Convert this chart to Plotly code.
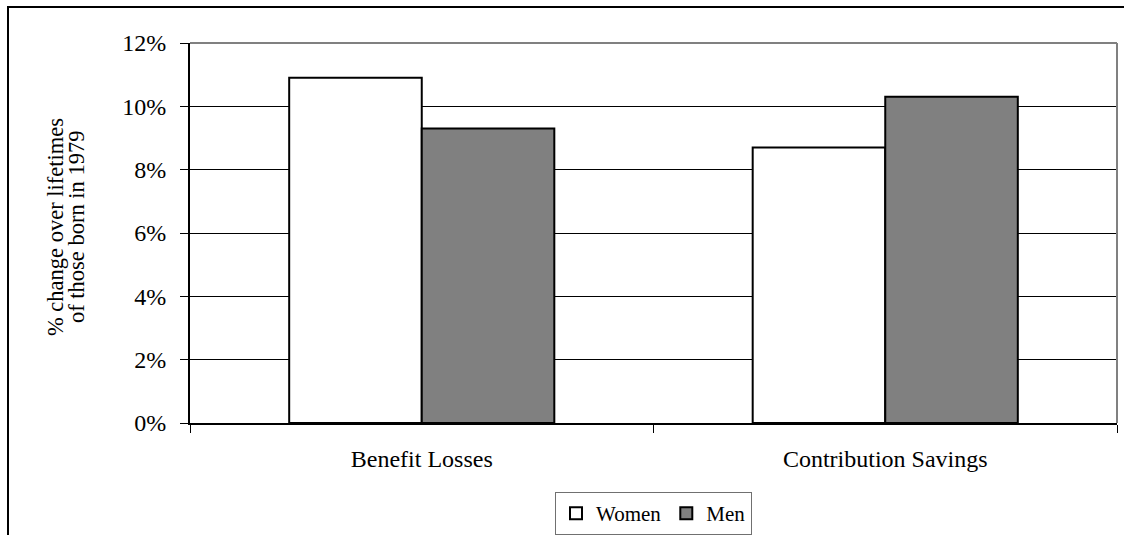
import plotly.graph_objects as go

categories = ["Benefit Losses", "Contribution Savings"]
women = [10.9, 8.7]
men = [9.3, 10.3]
y_tick_vals = [0, 2, 4, 6, 8, 10, 12]
y_tick_text = ["0%", "2%", "4%", "6%", "8%", "10%", "12%"]
y_title_lines = ["% change over lifetimes", "of those born in 1979"]

W, H = 1124, 535
L, R, T, B = 190, 7, 43, 112
pw, ph = W - L - R, H - T - B


def px(x):
    return (x - L) / pw


def py(y):
    return (H - B - y) / ph


fig = go.Figure()
fig.add_bar(x=categories, y=women, name="Women",
            marker=dict(color="white", line=dict(color="black", width=2)))
fig.add_bar(x=categories, y=men, name="Men",
            marker=dict(color="#808080", line=dict(color="black", width=2)))

title_x = [56, 77]
annotations = [
    dict(text=t, textangle=-90, x=px(xc), y=py(227),
         xref="paper", yref="paper", xanchor="center", yanchor="middle",
         showarrow=False, font=dict(size=22.5))
    for t, xc in zip(y_title_lines, title_x)
]

fig.update_layout(
    width=W, height=H,
    margin=dict(l=L, r=R, t=T, b=B, pad=0, autoexpand=False),
    plot_bgcolor="white", paper_bgcolor="white",
    barmode="group", bargap=0.428, bargroupgap=0,
    font=dict(family="Liberation Serif", color="black", size=24),
    showlegend=True,
    legend=dict(orientation="h", x=0.5, xanchor="center", y=py(492), yanchor="top",
                bordercolor="#707070", borderwidth=1, font=dict(size=21),
                tracegroupgap=0),
    xaxis=dict(showline=True, linecolor="black", linewidth=2, ticks="outside",
               tickson="boundaries", ticklen=8, tickcolor="black", tickwidth=1,
               showgrid=False, ticklabelstandoff=13, fixedrange=True),
    yaxis=dict(range=[0, 12], tickvals=y_tick_vals, ticktext=y_tick_text,
               showline=True, linecolor="black", linewidth=2, ticks="outside",
               ticklen=8, tickcolor="black", tickwidth=1, showgrid=True,
               gridcolor="black", gridwidth=1, zeroline=False,
               ticklabelstandoff=9, fixedrange=True),
    annotations=annotations,
    shapes=[
        dict(type="line", xref="paper", yref="paper", x0=0, x1=1, y0=1, y1=1,
             line=dict(color="#808080", width=2), layer="above"),
        dict(type="line", xref="paper", yref="paper", x0=1, x1=1, y0=0, y1=1,
             line=dict(color="#808080", width=2), layer="above"),
        dict(type="rect", xref="paper", yref="paper", x0=px(8), x1=px(1140),
             y0=py(560), y1=py(7), line=dict(color="black", width=2), layer="below"),
    ],
)

fig.write_html("out.html", post_script="document.body.style.margin='0';",
               config={"displayModeBar": False})
